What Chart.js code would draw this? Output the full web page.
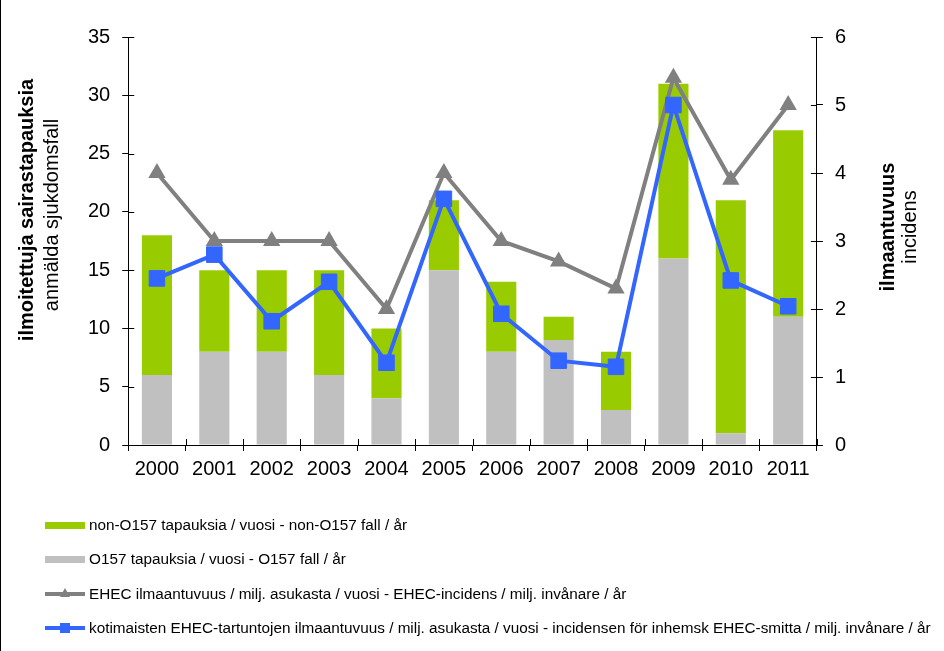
<!DOCTYPE html>
<html>
<head>
<meta charset="utf-8">
<script src="https://cdn.jsdelivr.net/npm/chart.js@4"></script>
<style>
  body { margin: 0; background: #fff; }
  #wrap { position: relative; width: 944px; height: 651px; overflow: hidden; }
  #frame { position: absolute; left: 0; top: 0; width: 1px; height: 651px; background: #000; }
  #legend { position: absolute; left: 45px; top: 508px; font: 15.3px Arial, "Liberation Sans", sans-serif; color: #000; }
  .item { position: relative; height: 34.3px; display: flex; align-items: center; }
  .mark { position: relative; width: 40px; height: 16px; margin-right: 4px; }
  .bar { position: absolute; left: 0; top: 4.5px; width: 40px; height: 7px; }
  .line { position: absolute; left: 0; top: 6px; width: 40px; height: 4px; }
  .sq { position: absolute; left: 15px; top: 3px; width: 10px; height: 10px; }
  .tri { position: absolute; left: 15px; top: 2px; width: 0; height: 0; border-left: 5px solid transparent; border-right: 5px solid transparent; }
</style>
</head>
<body>
<div id="wrap">
  <canvas id="ehecChart"></canvas>
  <div id="frame"></div>
  <div id="legend"></div>
</div>
<script>
const years = ['2000', '2001', '2002', '2003', '2004', '2005', '2006', '2007', '2008', '2009', '2010', '2011'];
const o157Cases = [6, 8, 8, 6, 4, 15, 8, 9, 3, 16, 1, 11];
const nonO157Cases = [12, 7, 7, 9, 6, 6, 6, 2, 5, 15, 20, 16];
const ehecIncidence = [4.0, 3.0, 3.0, 3.0, 2.0, 4.0, 3.0, 2.7, 2.3, 5.4, 3.9, 5.0];
const domesticIncidence = [2.45, 2.8, 1.82, 2.4, 1.21, 3.62, 1.93, 1.24, 1.15, 5.0, 2.42, 2.04];

const labelNonO157 = 'non-O157 tapauksia / vuosi - non-O157 fall / år';
const labelO157 = 'O157 tapauksia / vuosi - O157 fall / år';
const labelEhec = 'EHEC ilmaantuvuus / milj. asukasta / vuosi - EHEC-incidens / milj. invånare / år';
const labelDomestic = 'kotimaisten EHEC-tartuntojen ilmaantuvuus / milj. asukasta / vuosi - incidensen för inhemsk EHEC-smitta / milj. invånare / år';

const FONT = 'Arial, "Liberation Sans", sans-serif';
Chart.defaults.font.family = FONT;
Chart.defaults.font.size = 20;
Chart.defaults.color = '#000';

// tick marks cross the axes + two-line axis titles (bold + normal)
const axisExtras = {
  id: 'axisExtras',
  afterDraw(chart) {
    const { ctx, chartArea: a, scales } = chart;
    ctx.save();
    ctx.strokeStyle = '#000';
    ctx.lineWidth = 1;
    ctx.beginPath();
    scales.y.ticks.forEach((t, i) => {
      const py = Math.round(scales.y.getPixelForTick(i)) + 0.5;
      ctx.moveTo(a.left, py); ctx.lineTo(a.left + 6, py);
    });
    scales.y1.ticks.forEach((t, i) => {
      const py = Math.round(scales.y1.getPixelForTick(i)) + 0.5;
      ctx.moveTo(a.right - 6, py); ctx.lineTo(a.right, py);
    });
    const half = (a.right - a.left) / years.length / 2;
    for (let i = 0; i <= years.length; i++) {
      const px = Math.round(scales.x.getPixelForValue(i) - half) + 0.5;
      ctx.moveTo(px, a.bottom - 6); ctx.lineTo(px, a.bottom);
    }
    ctx.stroke();

    const vtext = (txt, x, y, font) => {
      ctx.save();
      ctx.translate(x, y);
      ctx.rotate(-Math.PI / 2);
      ctx.font = font;
      ctx.fillStyle = '#000';
      ctx.textAlign = 'center';
      ctx.textBaseline = 'middle';
      ctx.fillText(txt, 0, 0);
      ctx.restore();
    };
    vtext('ilmoitettuja sairastapauksia', 27, 210, 'bold 20px ' + FONT);
    vtext('anmälda sjukdomsfall', 52, 215, '20px ' + FONT);
    vtext('ilmaantuvuus', 888, 227, 'bold 20px ' + FONT);
    vtext('incidens', 910, 227, '20px ' + FONT);
    ctx.restore();
  }
};

const chart = new Chart(document.getElementById('ehecChart'), {
  data: {
    labels: years,
    datasets: [
      {
        type: 'bar',
        label: labelO157,
        data: o157Cases,
        backgroundColor: '#C0C0C0',
        stack: 'cases',
        yAxisID: 'y',
        order: 2,
        barPercentage: 0.525,
        categoryPercentage: 1,
      },
      {
        type: 'bar',
        label: labelNonO157,
        data: nonO157Cases,
        backgroundColor: '#99CC00',
        stack: 'cases',
        yAxisID: 'y',
        order: 3,
        barPercentage: 0.525,
        categoryPercentage: 1,
      },
      {
        type: 'line',
        label: labelEhec,
        data: ehecIncidence,
        borderColor: '#808080',
        backgroundColor: '#808080',
        borderWidth: 4,
        pointStyle: 'triangle',
        pointRadius: 10,
        pointBorderWidth: 0,
        yAxisID: 'y1',
        order: 1,
      },
      {
        type: 'line',
        label: labelDomestic,
        data: domesticIncidence,
        borderColor: '#3366FF',
        backgroundColor: '#3366FF',
        borderWidth: 4,
        pointStyle: 'rect',
        pointRadius: 11,
        pointBorderWidth: 1,
        yAxisID: 'y1',
        order: 0,
      },
    ],
  },
  plugins: [axisExtras],
  options: {
    responsive: true,
    maintainAspectRatio: false,
    animation: false,
    layout: {
      padding: { left: 76, right: 86, top: 37, bottom: 164 }
    },
    plugins: {
      legend: { display: false },
      tooltip: { enabled: false },
    },
    scales: {
      x: {
        stacked: true,
        grid: { drawOnChartArea: false, color: '#000', tickLength: 6, offset: true },
        border: { color: '#000', width: 1 },
        ticks: { padding: 6 },
      },
      y: {
        stacked: true,
        position: 'left',
        min: 0,
        max: 35,
        ticks: { stepSize: 5, padding: 12 },
        grid: { drawOnChartArea: false, color: '#000', tickLength: 6 },
        border: { color: '#000', width: 1 },
      },
      y1: {
        position: 'right',
        min: 0,
        max: 6,
        ticks: { stepSize: 1, padding: 12 },
        grid: { drawOnChartArea: false, color: '#000', tickLength: 6 },
        border: { color: '#000', width: 1 },
      },
    },
  },
});

// legend below the chart, one entry per row
const legendOrder = [1, 0, 2, 3];
const legendEl = document.getElementById('legend');
legendOrder.forEach(idx => {
  const ds = chart.data.datasets[idx];
  const item = document.createElement('div');
  item.className = 'item';
  const mark = document.createElement('div');
  mark.className = 'mark';
  if (ds.type === 'bar') {
    mark.innerHTML = `<div class="bar" style="background:${ds.backgroundColor}"></div>`;
  } else if (ds.pointStyle === 'triangle') {
    mark.innerHTML = `<div class="line" style="background:${ds.borderColor}"></div>` +
      `<div class="tri" style="border-bottom:9px solid ${ds.borderColor}"></div>`;
  } else {
    mark.innerHTML = `<div class="line" style="background:${ds.borderColor}"></div>` +
      `<div class="sq" style="background:${ds.borderColor}"></div>`;
  }
  const text = document.createElement('span');
  text.textContent = ds.label;
  item.appendChild(mark);
  item.appendChild(text);
  legendEl.appendChild(item);
});
</script>
</body>
</html>
